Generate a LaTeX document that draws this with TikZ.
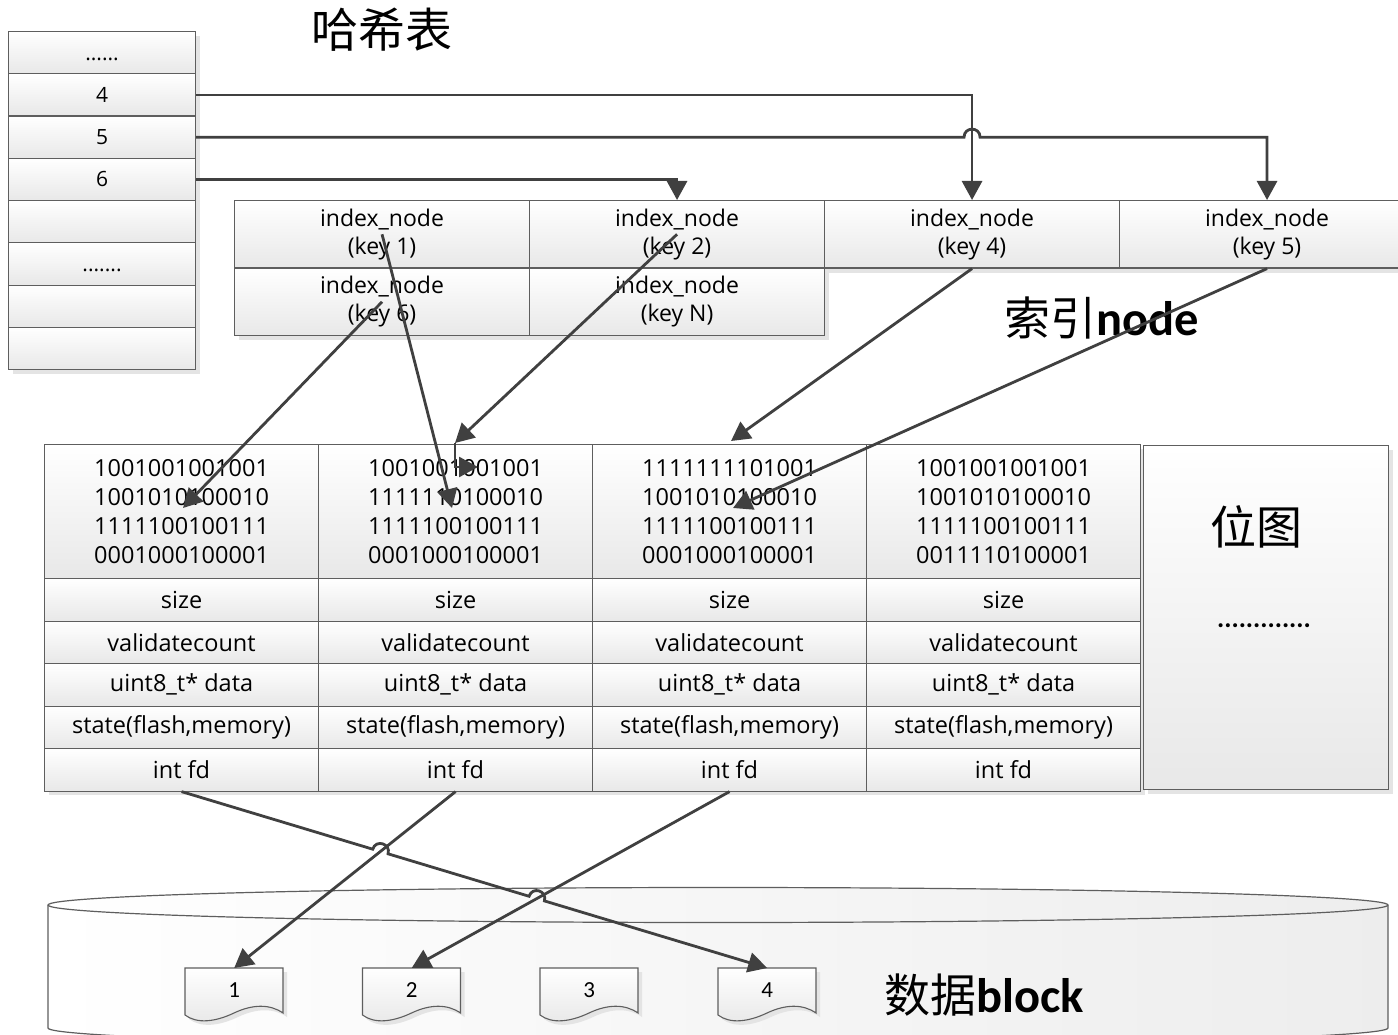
\documentclass[tikz,border=0pt]{standalone}
\usepackage{fontspec}
\setmainfont{Open Sans}
\newfontfamily\cjk{Noto Sans CJK SC}
\newfontfamily\calib{Carlito}
\usetikzlibrary{arrows.meta,calc,intersections}
\definecolor{edgec}{HTML}{5E5E5E}
\definecolor{wirec}{HTML}{404040}
\definecolor{cellbot}{HTML}{E8E8E8}
\definecolor{shadowc}{HTML}{E4E4E4}
\begin{document}
\begin{tikzpicture}[x=1pt,y=-1pt,
  cell/.style={draw=edgec, line width=1.1pt, top color=white, bottom color=cellbot,
    inner sep=0pt, anchor=north west, align=center},
  hcell/.style={cell, minimum width=187pt, minimum height=42.25pt, font=\fontsize{21}{25}\selectfont},
  kcell/.style={cell, minimum width=295pt, minimum height=67.5pt, font=\fontsize{23}{28}\selectfont},
  bitcell/.style={cell, minimum width=274pt, minimum height=134pt, font=\fontsize{23.5}{29}\selectfont},
  fcell/.style={cell, minimum width=274pt, minimum height=42.5pt, font=\fontsize{23.5}{28}\selectfont},
  docbox/.style={inner sep=0pt, minimum width=98pt, minimum height=44pt, anchor=north west,
    font=\calib\fontsize{23}{26}\selectfont},
  link/.style={draw=wirec, line width=2.8pt, -{Triangle[length=19pt,width=20pt]}},
  biglabel/.style={font=\fontsize{46}{50}\selectfont, inner sep=0pt},
]
\useasboundingbox (0,0) rectangle (1398,1035);
\fill[white] (0,0) rectangle (1398,1035);

% ---- hash table ----
\fill[shadowc] (13,36) rectangle (200,374);
\foreach \i/\t in {1/{\vphantom{4}......},2/4,3/5,4/6,5/{},6/{\vphantom{4}.......},7/{},8/{}}
  \node[hcell] (h\i) at (8,{31+(\i-1)*42.25}) {\t};
\node[biglabel, font=\cjk\fontsize{47}{50}\selectfont] (title) at (382,30) {哈希表};

% ---- index nodes ----
\fill[shadowc] (239,205) rectangle (1420,273);
\fill[shadowc] (239,272) rectangle (829,340);
\node[kcell] (k1) at (234,200) {index\_node\\(key 1)};
\node[kcell] (k2) at (529,200) {index\_node\\(key 2)};
\node[kcell] (k4) at (824,200) {index\_node\\(key 4)};
\node[kcell] (k5) at (1119,200) {index\_node\\(key 5)};
\node[kcell] (k6) at (234,267.5) {index\_node\\(key 6)};
\node[kcell] (kN) at (529,267.5) {index\_node\\(key N)};
\node[biglabel, anchor=west] (idxlabel) at (1004,318) {{\cjk 索引}{\calib\bfseries\fontsize{48.5}{50}\selectfont node}};

% ---- bitmap blocks ----
\fill[shadowc] (49,449) rectangle (1145,795);
\fill[shadowc] (1148,450) rectangle (1393,794);
\foreach \c/\x/\bits in {
  1/44/{1001001001001\\1001010100010\\1111100100111\\0001000100001},
  2/318/{1001001001001\\1111110100010\\1111100100111\\0001000100001},
  3/592/{1111111101001\\1001010100010\\1111100100111\\0001000100001},
  4/866/{1001001001001\\1001010100010\\1111100100111\\0011110100001}}{
  \node[bitcell] (bits\c) at (\x,444) {\bits};
  \node[fcell] (size\c) at (\x,578) {size};
  \node[fcell] (vc\c) at (\x,620.5) {validatecount};
  \node[fcell] (data\c) at (\x,663) {uint8\_t* data};
  \node[fcell] (state\c) at (\x,705.5) {state(flash,memory)};
  \node[fcell] (fd\c) at (\x,748) {int fd};
}
\node[cell, minimum width=245pt, minimum height=344pt] (bmap) at (1143,445) {};
\node[biglabel, font=\cjk\fontsize{46}{50}\selectfont] (bmaplabel) at (1256,527) {位图};
\node[inner sep=0pt, anchor=base, font=\calib\bfseries\fontsize{27}{30}\selectfont] (bmapdots) at (1264,627) {.............};

% ---- data store ----
\draw[draw=edgec, line width=1.2pt, left color=white, right color=black!7]
  (48,905) -- (48,1028) arc[start angle=180, end angle=360, x radius=670pt, y radius=17.5pt]
  -- (1388,905) arc[start angle=0, end angle=180, x radius=670pt, y radius=17.5pt] -- cycle;
\draw[draw=edgec, line width=1.2pt]
  (48,905) arc[start angle=180, end angle=360, x radius=670pt, y radius=17.5pt];
\node[biglabel, anchor=west] (storelabel) at (884,995) {{\cjk 数据}{\calib\bfseries\fontsize{48.5}{50}\selectfont block}};

\foreach \i/\x in {1/185,2/362.5,3/540,4/718}{
  \fill[shadowc, shift={(4,4)}] (\x,968) -- ++(98,0) -- (\x+98,1013)
    .. controls (\x+85,1004) and (\x+68,1004) .. (\x+49,1013)
    .. controls (\x+30,1022) and (\x+12,1024) .. (\x,1015) -- cycle;
  \draw[draw=edgec, line width=1.1pt, top color=white, bottom color=black!9]
    (\x,968) -- ++(98,0) -- (\x+98,1013)
    .. controls (\x+85,1004) and (\x+68,1004) .. (\x+49,1013)
    .. controls (\x+30,1022) and (\x+12,1024) .. (\x,1015) -- cycle;
  \node[docbox] (d\i) at (\x,968) {\i};
}

% ---- hash slots to index nodes ----
\draw[link] (h2.east) -| (k4.north);
\draw[link] (h4.east) -| (k2.north);
\draw[link] (h3.east) -- ($(h3.east -| k4.north)+(-8,0)$)
  .. controls +(0,-10.7) and +(0,-10.7) .. ($(h3.east -| k4.north)+(8,0)$) -| (k5.north);

% ---- index nodes to bitmap blocks ----
\coordinate (t1) at (452,508);
\coordinate (t6) at (183,508);
\coordinate (t2a) at (455,443);
\coordinate (t2b) at (455,467);
\coordinate (t2c) at (478,467);
\coordinate (t4) at (731,441);
\coordinate (t5) at (733,508);
\draw[link] (k6.center) -- (t6);
\draw[link] (k1.center) -- (t1);
\draw[link] (k2.center) -- (t2a);
\draw[link] (t2a) -- (t2b) -- (t2c);
\draw[link] (k4.south) -- (t4);
\draw[link] (k5.south) -- (t5);

% ---- file descriptors to data blocks ----
\path[name path=lA] (fd1.south) -- (d4.north);
\path[name path=lB] (fd2.south) -- (d1.north);
\path[name path=lC] (fd3.south) -- (d2.north);
\path[name intersections={of=lA and lB, by=x1}];
\path[name intersections={of=lA and lC, by=x2}];
\coordinate (j1s) at ($(x1)!8pt!(fd1.south)$);
\coordinate (j1e) at ($(x1)!8pt!(d4.north)$);
\coordinate (j2s) at ($(x2)!8pt!(fd1.south)$);
\coordinate (j2e) at ($(x2)!8pt!(d4.north)$);
\draw[link] (fd2.south) -- (d1.north);
\draw[link] (fd3.south) -- (d2.north);
\draw[link] (fd1.south) -- (j1s)
  .. controls ($(j1s)!10.7pt!90:(x1)$) and ($(j1e)!10.7pt!-90:(x1)$) .. (j1e)
  -- (j2s)
  .. controls ($(j2s)!10.7pt!90:(x2)$) and ($(j2e)!10.7pt!-90:(x2)$) .. (j2e)
  -- (d4.north);
\end{tikzpicture}
\end{document}
